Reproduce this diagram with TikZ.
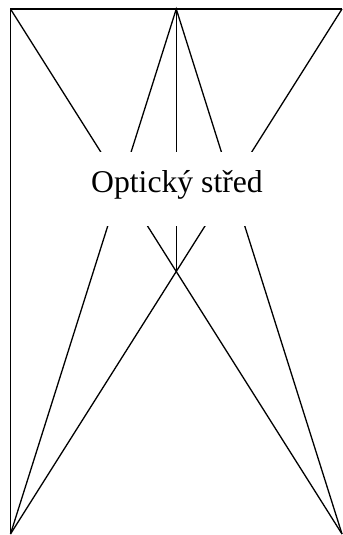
\documentclass[tikz,border=0pt]{standalone}
\usepackage{fontspec}
\setmainfont{Liberation Serif}
\usetikzlibrary{calc}

\begin{document}
\begin{tikzpicture}[x=1bp, y=-1bp, line width=1.3bp,
    popis/.style={fill=white, inner xsep=4bp, inner ysep=0pt,
        text height=41bp, text depth=33bp, font=\fontsize{31.8}{32}\selectfont}]
\useasboundingbox (0,0) rectangle (342,535);
\coordinate (tl) at (10.5,9);
\coordinate (tr) at (342,9);
\coordinate (bl) at (10.5,534);
\coordinate (br) at (342,534);
\coordinate (tm) at ($(tl)!0.5!(tr)$);
\coordinate (mid) at ($(tl)!0.5!(br)$);
% frame
\draw (tr) -- (tl) -- (bl);
% lines
\draw (tl) -- (br);
\draw (tr) -- (bl);
\draw (bl) -- (tm) -- (br);
\draw (tm) -- (mid);
\node[popis, anchor=base] (stred) at (177,193) {Optický střed};
\end{tikzpicture}
\end{document}
